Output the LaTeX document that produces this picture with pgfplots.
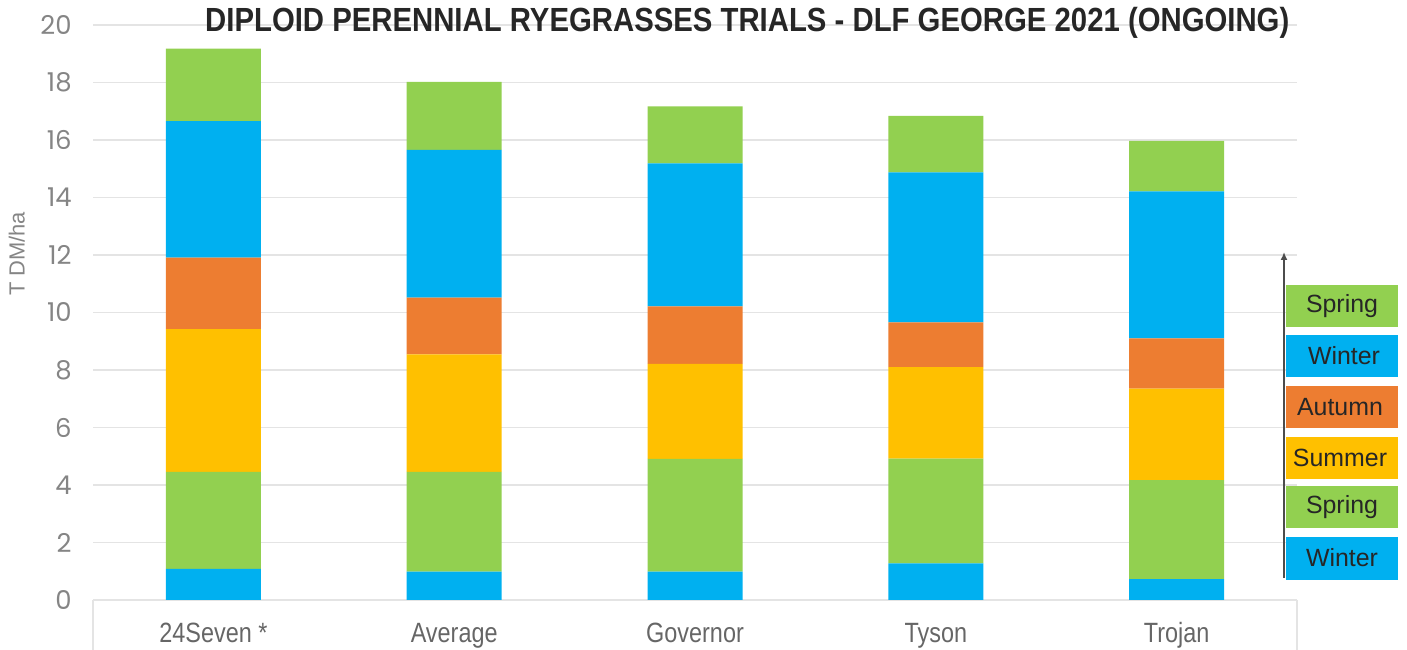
\documentclass[border=0pt]{standalone}
\usepackage{pgfplots}
\pgfplotsset{compat=1.18}
\usepackage{fontspec}
\setmainfont{Liberation Sans}
\newfontfamily\tickfont{Poppins}
\usetikzlibrary{arrows.meta}
\definecolor{cgreen}{HTML}{92D050}
\definecolor{cblue}{HTML}{00B0F0}
\definecolor{corange}{HTML}{ED7D31}
\definecolor{cyellow}{HTML}{FFC000}
\definecolor{ctick}{HTML}{858585}
\definecolor{clab}{HTML}{666666}
\definecolor{cgrid}{HTML}{E4E4E4}
\begin{document}
\begin{tikzpicture}[x=0.5bp,y=0.5bp]
\useasboundingbox (0,0) rectangle (1407,650);
\begin{axis}[
  at={(46.5bp,25bp)}, anchor=south west,
  scale only axis, width=602bp, height=287.5bp,
  xmin=-0.5, xmax=4.5, ymin=0, ymax=20,
  ybar stacked, bar width=47.5bp,
  axis line style={draw=none}, tick style={draw=none},
  major tick length=0pt,
  ytick={0,2,...,20}, ymajorgrids, grid style={cgrid, line width=0.9pt},
  xtick={0,1,2,3,4},
  xticklabels={\scalebox{0.84}[1]{24Seven *}, \scalebox{0.84}[1]{Average}, \scalebox{0.84}[1]{Governor}, \scalebox{0.84}[1]{Tyson}, \scalebox{0.84}[1]{Trojan}},
  /pgf/number format/assume math mode=true,
  yticklabel style={font=\tickfont\fontsize{13}{15}\selectfont, text=ctick, anchor=east, inner sep=0pt, xshift=-10.5bp},
  xticklabel style={font=\fontsize{14}{16}\selectfont, text=clab, anchor=base, inner sep=0pt, yshift=-21.5bp},
  ylabel={T DM/ha},
  ylabel style={at={(axis description cs:-0.0632,0.602)}, anchor=center, rotate=0, font=\fontsize{11}{13}\selectfont, text=ctick, inner sep=0pt},
  every axis title shift=0pt,
  title={\resizebox{542bp}{\height}{\fontsize{16.8}{19}\selectfont\bfseries DIPLOID PERENNIAL RYEGRASSES TRIALS - DLF GEORGE 2021 (ONGOING)}},
  title style={at={(axis description cs:0.5434,0.9878)}, anchor=base, inner sep=0pt, text=black!85},
]
\addplot[fill=cblue, draw=none] coordinates {(0,1.08) (1,0.99) (2,0.99) (3,1.27) (4,0.73)};
\addplot[fill=cgreen, draw=none] coordinates {(0,3.38) (1,3.47) (2,3.92) (3,3.65) (4,3.44)};
\addplot[fill=cyellow, draw=none] coordinates {(0,4.96) (1,4.08) (2,3.30) (3,3.18) (4,3.18)};
\addplot[fill=corange, draw=none] coordinates {(0,2.49) (1,1.98) (2,2.00) (3,1.56) (4,1.75)};
\addplot[fill=cblue, draw=none] coordinates {(0,4.75) (1,5.14) (2,4.98) (3,5.21) (4,5.11)};
\addplot[fill=cgreen, draw=none] coordinates {(0,2.52) (1,2.36) (2,1.98) (3,1.97) (4,1.76)};
\end{axis}
% frame ends below the axis
\draw[cgrid, line width=0.9pt] (93,50) -- (93,0);
\draw[cgrid, line width=0.9pt] (1297,50) -- (1297,0);
% custom legend
\draw[black!70, line width=0.8pt, -{Latex[length=4bp,width=3.5bp]}] (1284,72) -- (1284,398);
\tikzset{lg/.style={font=\fontsize{12.5}{14}\selectfont, text=black!85}}
\fill[cgreen]  (1286,323) rectangle (1398,365); \node[lg] at (1342,344) {Spring};
\fill[cblue]   (1286,273) rectangle (1398,315); \node[lg] at (1344,294) {Winter};
\fill[corange] (1286,222) rectangle (1398,264); \node[lg] at (1340,243) {Autumn};
\fill[cyellow] (1286,171) rectangle (1398,213); \node[lg] at (1340,192) {Summer};
\fill[cgreen]  (1286,122) rectangle (1398,164); \node[lg] at (1342,143) {Spring};
\fill[cblue]   (1286,70)  rectangle (1398,113); \node[lg] at (1342,92) {Winter};
\end{tikzpicture}
\end{document}
